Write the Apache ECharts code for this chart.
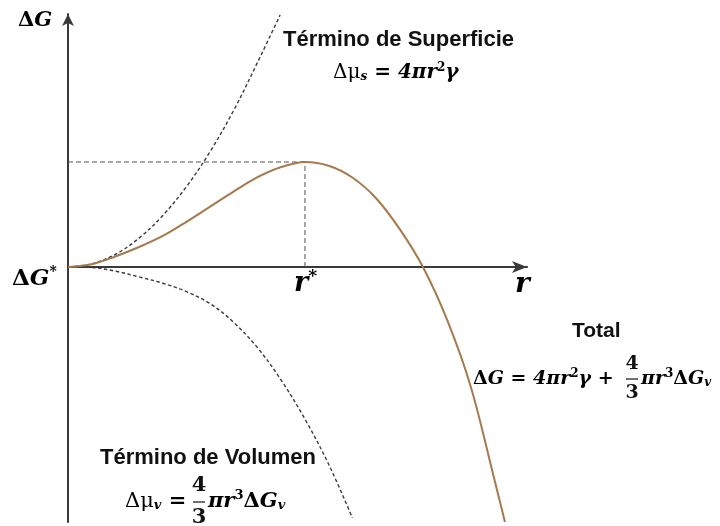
<!DOCTYPE html>
<html>
<head>
<meta charset="utf-8">
<script src="https://cdn.jsdelivr.net/npm/echarts@6/dist/echarts.min.js"></script>
<style>
  html, body { margin: 0; padding: 0; background: #ffffff; }
  #chart { width: 720px; height: 526px; }
</style>
</head>
<body>
<div id="chart"></div>
<script>
// Nucleation free energy: radius in units of r*, energy in units of ΔG*
const totalR = [0, 0.1, 0.2, 0.3, 0.4, 0.5, 0.6, 0.7, 0.8, 0.9, 1.0, 1.1, 1.2, 1.3, 1.4, 1.5, 1.6, 1.7, 1.8, 1.844];
const totalG = [0, 0.026, 0.10, 0.19, 0.295, 0.43, 0.575, 0.72, 0.855, 0.952, 1.0, 0.964, 0.852, 0.655, 0.36, -0.01, -0.505, -1.143, -2.03, -2.43];

// Surface term 4πr²γ
const surfR = [0, 0.1, 0.2, 0.3, 0.4, 0.5, 0.6, 0.7, 0.8, 0.895];
const surfG = [0, 0.03, 0.12, 0.275, 0.49, 0.765, 1.10, 1.495, 1.95, 2.40];

// Volume term (4/3)πr³ΔGv
const volR = [0, 0.1, 0.2, 0.3, 0.4, 0.5, 0.6, 0.7, 0.8, 0.9, 1.0, 1.1, 1.2];
const volG = [0, -0.005, -0.04, -0.095, -0.155, -0.235, -0.35, -0.53, -0.77, -1.08, -1.45, -1.88, -2.39];

// Critical point
const rStar = 1;
const gStar = 1;

// Axis extents
const rMax = 1.937;
const gMax = 2.41;
const gMin = -2.43;

const pairs = (xs, ys) => xs.map((x, i) => [x, ys[i]]);

const SERIF = '"DejaVu Serif", serif';
const SANS = '"Liberation Sans", Arial, sans-serif';
const INK = '#111111';

// rich-text styles for the formulas
function mathRich(size) {
  const small = Math.round(size * 0.62);
  return {
    n:  { fontFamily: SERIF, fontWeight: 'bold', fontStyle: 'italic', fontSize: size, color: INK },
    ub: { fontFamily: SERIF, fontWeight: 'bold', fontStyle: 'normal', fontSize: size, color: INK },
    u:  { fontFamily: SERIF, fontWeight: 'normal', fontStyle: 'normal', fontSize: size, color: INK },
    sp: { fontFamily: SERIF, fontWeight: 'bold', fontStyle: 'normal', fontSize: small, color: INK, padding: [0, 0, Math.round(size * 0.55), 0] },
    sb: { fontFamily: SERIF, fontWeight: 'bold', fontStyle: 'italic', fontSize: small, color: INK, padding: [Math.round(size * 0.4), 0, 0, 0] }
  };
}

function mathText(text, x, y, size, align) {
  return {
    type: 'text', x: x, y: y, silent: true, z: 10,
    style: {
      text: text, rich: mathRich(size),
      fontFamily: SERIF, fontSize: size,
      align: align || 'left', verticalAlign: 'middle'
    }
  };
}

function sansText(text, x, y, size) {
  return {
    type: 'text', x: x, y: y, silent: true, z: 10,
    style: {
      text: text, fontFamily: SANS, fontWeight: 'bold', fontSize: size,
      fill: INK, align: 'left', verticalAlign: 'middle'
    }
  };
}

// stacked 4/3 fraction
function fraction(cx, cy, size) {
  const font = 'bold ' + size + 'px ' + SERIF;
  return [
    { type: 'text', x: cx, y: cy - size * 0.78, silent: true, z: 10,
      style: { text: '4', font: font, fill: INK, align: 'center', verticalAlign: 'middle' } },
    { type: 'line', silent: true, z: 10,
      shape: { x1: cx - 6, y1: cy, x2: cx + 6, y2: cy },
      style: { stroke: INK, lineWidth: 1.2 } },
    { type: 'text', x: cx, y: cy + size * 0.72, silent: true, z: 10,
      style: { text: '3', font: font, fill: INK, align: 'center', verticalAlign: 'middle' } }
  ];
}

const chart = echarts.init(document.getElementById('chart'), null, { renderer: 'canvas' });

const dashedGrey = { color: '#3c3c3c', width: 1.4, type: [3.5, 2.5] };
const guideGrey = { color: '#555555', width: 1, type: [5, 3] };
const axisLineStyle = { color: '#3a3a3a', width: 2 };

const curve = (name, xs, ys, lineStyle, z) => ({
  name: name, type: 'line', data: pairs(xs, ys), smooth: 0.35,
  showSymbol: false, silent: true, clip: false, lineStyle: lineStyle, z: z
});

chart.setOption({
  animation: false,
  backgroundColor: '#ffffff',
  grid: { left: 68, right: 193, top: 14, bottom: 4, containLabel: false },
  xAxis: {
    type: 'value', min: 0, max: rMax,
    axisLine: { show: true, onZero: true, lineStyle: axisLineStyle, symbol: ['none', 'arrow'], symbolSize: [9, 15] },
    axisTick: { show: false }, axisLabel: { show: false }, splitLine: { show: false }
  },
  yAxis: {
    type: 'value', min: gMin, max: gMax,
    axisLine: { show: true, onZero: false, lineStyle: axisLineStyle, symbol: ['none', 'arrow'], symbolSize: [9, 12] },
    axisTick: { show: false }, axisLabel: { show: false }, splitLine: { show: false }
  },
  series: [
    { name: 'guideH', type: 'line', data: [[0, gStar], [rStar, gStar]], showSymbol: false, silent: true,
      lineStyle: guideGrey, z: 1 },
    { name: 'guideV', type: 'line', data: [[rStar, 0], [rStar, gStar]], showSymbol: false, silent: true,
      lineStyle: guideGrey, z: 1 },
    curve('Término de Superficie', surfR, surfG, dashedGrey, 2),
    curve('Término de Volumen', volR, volG, dashedGrey, 2),
    curve('Total', totalR, totalG, { color: '#a57a4c', width: 2 }, 3)
  ],
  graphic: [
    // axis names and critical values
    mathText('{ub|Δ}{n|G}', 18, 21, 21),
    mathText('{ub|Δ}{n|G}{sp|*}', 12, 279, 23),
    mathText('{n|r}{sp|*}', 294, 284, 27),
    mathText('{n|r}', 515, 285, 28),

    // surface term
    sansText('Término de Superficie', 283, 40, 22),
    mathText('{u|Δμ}{sb|s}{n| = 4πr}{sp|2}{n|γ}', 333, 73, 20),

    // total
    sansText('Total', 572, 331, 21),
    mathText('{ub|Δ}{n|G = 4πr}{sp|2}{n|γ +}', 473, 379, 19),
    ...fraction(632, 379, 19),
    mathText('{n|πr}{sp|3}{ub|Δ}{n|G}{sb|v}', 641, 379, 19),

    // volume term
    sansText('Término de Volumen', 100, 458, 22),
    mathText('{u|Δμ}{sb|v}{n| =}', 125, 502, 21),
    ...fraction(199, 502, 21),
    mathText('{n|πr}{sp|3}{ub|Δ}{n|G}{sb|v}', 208, 502, 21)
  ]
});
</script>
</body>
</html>
